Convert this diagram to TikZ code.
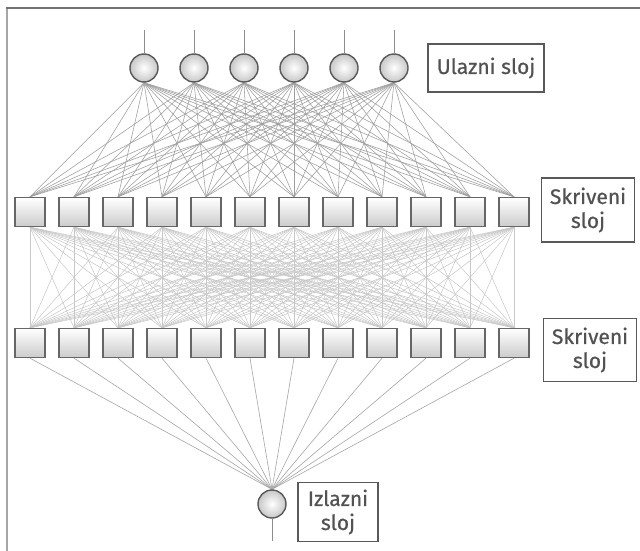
\documentclass[tikz,border=0pt]{standalone}
\usepackage{fontspec}
\setmainfont{Fira Sans}
\newfontfamily\lblfont{Fira Sans}[FakeBold=0.6]
\usetikzlibrary{backgrounds}
\tikzset{
  neuron/.style={circle, minimum size=28pt, inner sep=0pt, draw=black!65, line width=1.4pt,
    inner color=white, outer color=black!22},
  unit/.style={rectangle, minimum width=30pt, minimum height=29pt, inner sep=0pt, draw=black!60, line width=1.4pt,
    top color=white, bottom color=black!20},
  lbl/.style={rectangle, draw=black!65, line width=1.2pt, align=center, inner sep=0pt,
    text=black!68, font=\lblfont\fontsize{21}{24}\selectfont},
  wire1/.style={draw=black!38, line width=0.55pt},
  wire2/.style={draw=black!22, line width=0.5pt},
  wire3/.style={draw=black!35, line width=0.6pt},
  frame/.style={line width=1.6pt}
}
\begin{document}
\begin{tikzpicture}[x=1pt,y=-1pt]
\useasboundingbox (0,0) rectangle (640,551);
% input layer
\foreach \k/\x in {1/144,2/194,3/244,4/294,5/344,6/394} {
  \node[neuron] (i\k) at (\x,68) {};
  \coordinate (in\k) at (\x,30);
}
% hidden layers
\foreach \j in {1,...,12} {
  \pgfmathsetmacro{\xx}{30+44*(\j-1)}
  \node[unit] (a\j) at (\xx,212) {};
  \node[unit] (b\j) at (\xx,343) {};
}
% output
\node[neuron] (o) at (272,504) {};
\coordinate (out) at (272,541);
% labels
\node[lbl, minimum width=116pt, minimum height=48pt] (l1) at (486,68) {Ulazni sloj};
\node[lbl, minimum width=93pt, minimum height=64pt] (l2) at (588,210) {Skriveni\\sloj};
\node[lbl, minimum width=93pt, minimum height=63pt] (l3) at (590,350) {Skriveni\\sloj};
\node[lbl, minimum width=80pt, minimum height=59pt] (l4) at (338,512) {Izlazni\\sloj};
% connectors
\begin{pgfonlayer}{background}
\fill[white] (0,0) rectangle (640,551);
\draw[frame, draw=black!35] (7,551) -- (7,8);
\draw[frame, draw=black!55] (6.2,8) -- (640,8);
\foreach \j in {1,...,12} {
  \foreach \k in {1,...,6} {
    \draw[wire1] (i\k.south) -- (a\j.north);
  }
  \foreach \m in {1,...,12} {
    \draw[wire2] (a\j.south) -- (b\m.north);
  }
  \draw[wire3] (b\j.south) -- (o.north);
}
\foreach \k in {1,...,6} {
  \draw[wire3, draw=black!45, line width=1pt] (in\k) -- (i\k.north);
}
\draw[wire3, draw=black!45, line width=1pt] (o.south) -- (out);
\end{pgfonlayer}
\end{tikzpicture}
\end{document}
